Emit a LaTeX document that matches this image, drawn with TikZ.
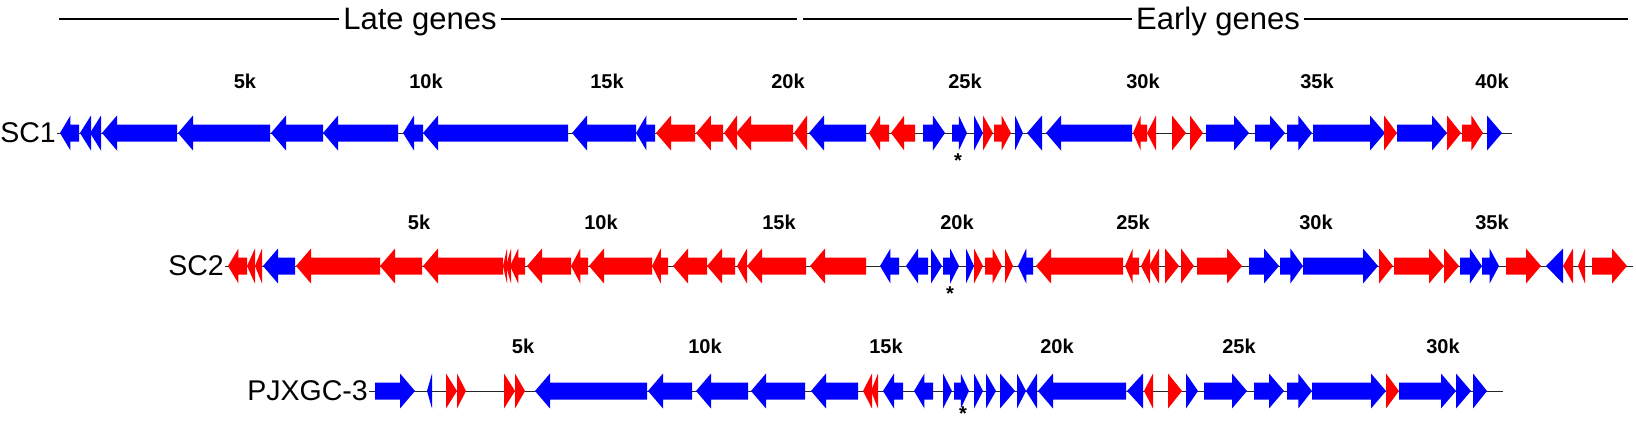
\documentclass[tikz,border=0pt]{standalone}
\usepackage{fontspec}
\setmainfont{Liberation Sans}
\definecolor{gb}{RGB}{0,0,255}
\definecolor{gr}{RGB}{255,0,0}
\def\ry{0}
\newcommand\geneR[3]{\pgfmathsetmacro\hl{min(15,(#3-#2)*0.55)}%
 \fill[#1] (#2,\ry-8.5) -- (#3-\hl,\ry-8.5) -- (#3-\hl,\ry-17.5) -- (#3,\ry) -- (#3-\hl,\ry+17.5) -- (#3-\hl,\ry+8.5) -- (#2,\ry+8.5) -- cycle;}
\newcommand\geneL[3]{\pgfmathsetmacro\hl{min(15,(#3-#2)*0.55)}%
 \fill[#1] (#3,\ry-8.5) -- (#2+\hl,\ry-8.5) -- (#2+\hl,\ry-17.5) -- (#2,\ry) -- (#2+\hl,\ry+17.5) -- (#2+\hl,\ry+8.5) -- (#3,\ry+8.5) -- cycle;}
\newcommand\triR[3]{\fill[#1] (#2,\ry-17.5) -- (#3,\ry) -- (#2,\ry+17.5) -- cycle;}
\newcommand\triL[3]{\fill[#1] (#3,\ry-17.5) -- (#2,\ry) -- (#3,\ry+17.5) -- cycle;}
\begin{document}
\begin{tikzpicture}[x=1pt,y=1pt,
  hdr/.style={font=\fontsize{31}{33}\selectfont, inner sep=4pt, anchor=base},
  hline/.style={line width=2pt, black},
  lab/.style={font=\fontsize{28.5}{30}\selectfont, inner sep=1pt, anchor=east},
  tick/.style={font=\fontsize{20}{22}\selectfont\bfseries, inner sep=0pt},
  star/.style={font=\fontsize{20}{22}\selectfont\bfseries, inner sep=0pt},
  bb/.style={line width=1pt, black!85}]
\useasboundingbox (0,0) rectangle (1636,-423);
% header
\node[hdr] (late) at (420,-29) {Late genes};
\node[hdr] (early) at (1218,-29) {Early genes};
\coordinate (h1) at (59,-19);
\coordinate (h2) at (797,-19);
\coordinate (h3) at (803,-19);
\coordinate (h4) at (1628,-19);
\draw[hline] (h1) -- (h1 -| late.west);
\draw[hline] (h2 -| late.east) -- (h2);
\draw[hline] (h3) -- (h3 -| early.west);
\draw[hline] (h4 -| early.east) -- (h4);
% ---------------- row 1 ----------------
\node[lab] (sc1) at (57,-133) {SC1};
\coordinate (e1) at (1512,-133);
\draw[bb] (sc1.east) -- (e1);
\foreach \t/\x in {5k/245,10k/426,15k/607,20k/788,25k/965,30k/1143,35k/1317,40k/1492}
  \node[tick] (t1-\t) at (\x,-81) {\t};
\node[star] (s1) at (958,-161) {*};
\def\ry{-133}
\geneL{gb}{60}{79}
\triL{gb}{80}{91}
\triL{gb}{90}{101}
\geneL{gb}{102}{177}
\geneL{gb}{178}{270}
\geneL{gb}{271}{323}
\geneL{gb}{323}{398}
\geneL{gb}{403}{423}
\geneL{gb}{423}{568}
\geneL{gb}{572}{636}
\geneL{gb}{636}{655}
\geneL{gr}{656}{695}
\geneL{gr}{696}{723}
\triL{gr}{724}{737}
\geneL{gr}{736}{793}
\triL{gr}{794}{807}
\geneL{gb}{809}{866}
\geneL{gr}{869}{889}
\geneL{gr}{891}{915}
\geneR{gb}{923}{945}
\geneR{gb}{952}{967}
\triR{gb}{974}{983}
\triR{gr}{983}{993}
\geneR{gr}{994}{1011}
\triR{gb}{1015}{1023}
\triL{gb}{1027}{1042}
\geneL{gb}{1046}{1132}
\geneL{gr}{1133}{1147}
\triL{gr}{1147}{1156}
\triR{gr}{1172}{1186}
\triR{gr}{1190}{1203}
\geneR{gb}{1206}{1249}
\geneR{gb}{1255}{1285}
\geneR{gb}{1287}{1312}
\geneR{gb}{1313}{1385}
\triR{gr}{1384}{1397}
\geneR{gb}{1397}{1447}
\triR{gr}{1447}{1461}
\geneR{gr}{1462}{1483}
\triR{gb}{1487}{1502}
% ---------------- row 2 ----------------
\node[lab] (sc2) at (225,-266) {SC2};
\coordinate (e2) at (1633,-266);
\draw[bb] (sc2.east) -- (e2);
\foreach \t/\x in {5k/419,10k/601,15k/779,20k/957,25k/1133,30k/1316,35k/1492}
  \node[tick] (t2-\t) at (\x,-222) {\t};
\node[star] (s2) at (950,-294) {*};
\def\ry{-266}
\geneL{gr}{228}{247}
\triL{gr}{247}{255}
\triL{gr}{255}{262}
\geneL{gb}{263}{295}
\geneL{gr}{296}{380}
\geneL{gr}{380}{422}
\geneL{gr}{423}{503}
\triL{gr}{503}{507}
\triL{gr}{506}{511}
\geneL{gr}{510}{525}
\geneL{gr}{527}{571}
\geneL{gr}{571}{588}
\geneL{gr}{589}{652}
\geneL{gr}{652}{668}
\geneL{gr}{673}{707}
\geneL{gr}{707}{735}
\triL{gr}{737}{747}
\geneL{gr}{747}{806}
\geneL{gr}{810}{866}
\geneL{gb}{880}{899}
\geneL{gb}{906}{928}
\triR{gb}{931}{942}
\geneR{gb}{943}{959}
\triR{gb}{966}{974}
\triR{gr}{974}{983}
\geneR{gr}{985}{1002}
\triR{gr}{1005}{1013}
\geneL{gb}{1018}{1033}
\geneL{gr}{1036}{1123}
\geneL{gr}{1125}{1139}
\triL{gr}{1141}{1150}
\triL{gr}{1149}{1159}
\triR{gr}{1165}{1179}
\triR{gr}{1181}{1194}
\geneR{gr}{1197}{1242}
\geneR{gb}{1249}{1279}
\geneR{gb}{1280}{1303}
\geneR{gb}{1303}{1378}
\triR{gr}{1379}{1393}
\geneR{gr}{1394}{1444}
\triR{gr}{1444}{1459}
\geneR{gb}{1460}{1482}
\geneR{gb}{1482}{1499}
\geneR{gr}{1506}{1541}
\triL{gb}{1546}{1563}
\triL{gr}{1563}{1573}
\triL{gr}{1578}{1585}
\geneR{gr}{1592}{1627}
% ---------------- row 3 ----------------
\node[lab] (pj) at (369,-391) {PJXGC-3};
\coordinate (e3) at (1503,-391);
\draw[bb] (pj.east) -- (e3);
\foreach \t/\x in {5k/523,10k/705,15k/886,20k/1057,25k/1239,30k/1443}
  \node[tick] (t3-\t) at (\x,-346) {\t};
\node[star] (s3) at (963,-414) {*};
\def\ry{-391}
\geneR{gb}{375}{415}
\triL{gb}{427}{432}
\triR{gr}{446}{457}
\triR{gr}{457}{466}
\triR{gr}{504}{515}
\triR{gr}{515}{525}
\geneL{gb}{535}{647}
\geneL{gb}{648}{692}
\geneL{gb}{696}{748}
\geneL{gb}{751}{805}
\geneL{gb}{811}{858}
\triL{gr}{863}{872}
\triL{gr}{871}{878}
\geneL{gb}{883}{903}
\geneL{gb}{914}{933}
\triR{gb}{943}{952}
\geneR{gb}{954}{969}
\triR{gb}{974}{983}
\triR{gb}{986}{996}
\triR{gb}{1000}{1015}
\triR{gb}{1017}{1026}
\triL{gb}{1026}{1037}
\geneL{gb}{1038}{1126}
\triL{gb}{1127}{1143}
\triL{gr}{1144}{1153}
\triR{gr}{1168}{1182}
\triR{gb}{1186}{1198}
\geneR{gb}{1204}{1247}
\geneR{gb}{1254}{1284}
\geneR{gb}{1287}{1312}
\geneR{gb}{1312}{1386}
\triR{gr}{1386}{1399}
\geneR{gb}{1399}{1456}
\triR{gb}{1456}{1471}
\triR{gb}{1473}{1487}
\end{tikzpicture}
\end{document}
